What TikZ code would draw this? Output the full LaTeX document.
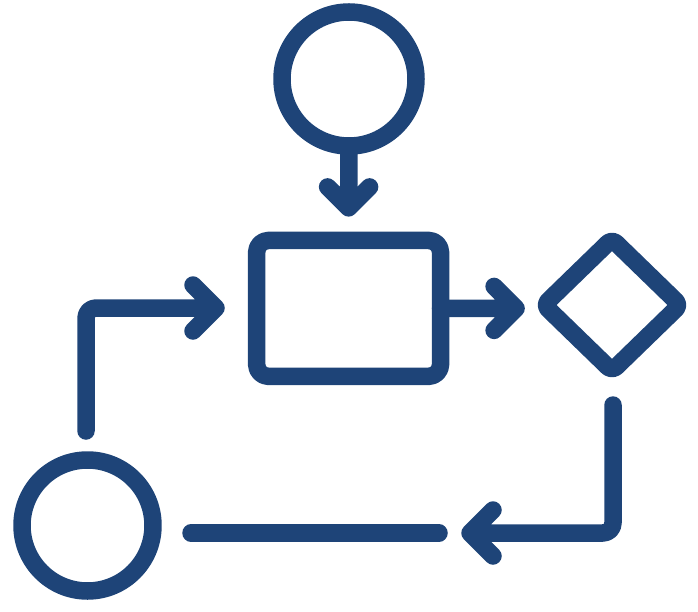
\documentclass[tikz,border=0pt]{standalone}
\usetikzlibrary{shapes.geometric,calc}
\definecolor{iconblue}{RGB}{30,68,120}
\begin{document}
\begin{tikzpicture}[x=1pt,y=-1pt,
  stroke/.style={draw=iconblue, line width=17.5pt, line cap=round, line join=round},
  shapenode/.style={stroke, inner sep=0pt, outer sep=0pt},
  conn/.style={stroke}]
\useasboundingbox (0,0) rectangle (698,612);
% nodes
\node[shapenode, circle, minimum size=134pt] (start) at (349,79) {};
\node[shapenode, rectangle, rounded corners=12pt, minimum width=184pt, minimum height=136pt] (task) at (348.6,308.4) {};
\node[shapenode, diamond, rounded corners=6pt, minimum width=136pt, minimum height=132pt] (gate) at (612,305) {};
\node[shapenode, circle, minimum size=131pt] (end) at (87.5,525.5) {};
% free ends
\coordinate (t3) at (470,533);
\coordinate (t5) at (216,308);
% connectors
\draw[conn] (start.south) -- ($(task.north)+(0,-32.5)$) coordinate (t1)
  ++(-21,-21) -- (t1) -- ++(21,-21);
\draw[conn] (task.east) -- ($(task.east)+(75.5,0)$) coordinate (t2)
  ++(-22,-22) -- (t2) -- ++(-22,22);
\draw[conn, rounded corners=10pt] ($(gate.south)+(1,34)$) |- (t3)
  [sharp corners] ++(23,-23) -- (t3) -- ++(23,23);
\draw[conn] ($(end.east)+(38,7.5)$) -- ++(248,0);
\draw[conn, rounded corners=10pt] ($(end.north)+(-1.5,-29)$) |- (t5)
  [sharp corners] ++(-23,-23) -- (t5) -- ++(-23,23);
\end{tikzpicture}
\end{document}
